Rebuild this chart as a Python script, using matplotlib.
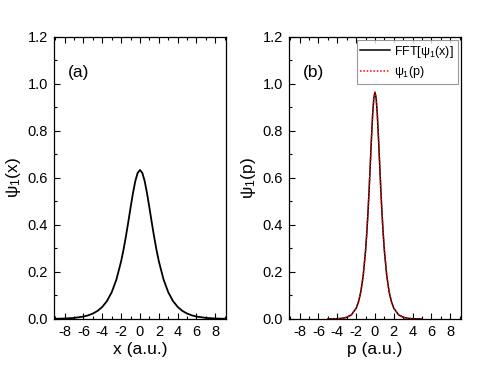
import matplotlib.pyplot as plt
from matplotlib.ticker import MultipleLocator

plt.rcParams['font.family'] = ['Liberation Sans', 'DejaVu Sans']
plt.rcParams['mathtext.fontset'] = 'custom'
plt.rcParams['mathtext.rm'] = 'Liberation Sans'
plt.rcParams['mathtext.it'] = 'Liberation Sans'
plt.rcParams['axes.unicode_minus'] = False

# panel (a): psi_1(x)
x = [-9.0, -8.0, -7.0, -6.0, -5.5, -5.0, -4.5, -4.0, -3.5, -3.0, -2.5, -2.0, -1.75,
     -1.5, -1.25, -1.0, -0.75, -0.5, -0.25, 0.0, 0.25, 0.5, 0.75, 1.0, 1.25,
     1.5, 1.75, 2.0, 2.5, 3.0, 3.5, 4.0, 4.5, 5.0, 5.5, 6.0, 7.0, 8.0, 9.0]
psi_x = [0.0009, 0.0021, 0.0047, 0.0104, 0.0156, 0.0232, 0.0346, 0.0516, 0.0768,
         0.1141, 0.1685, 0.2460, 0.2948, 0.3501, 0.4109, 0.4741, 0.5348, 0.5864,
         0.6215, 0.634, 0.6215, 0.5864, 0.5348, 0.4741, 0.4109, 0.3501, 0.2948,
         0.2460, 0.1685, 0.1141, 0.0768, 0.0516, 0.0346, 0.0232, 0.0156, 0.0104,
         0.0047, 0.0021, 0.0009]

# panel (b): momentum distribution, FFT result and analytic curve
p = [-5.0, -4.0, -3.5, -3.0, -2.5, -2.0, -1.75, -1.5, -1.25, -1.0, -0.875, -0.75,
     -0.625, -0.5, -0.375, -0.25, -0.125, 0.0, 0.125, 0.25, 0.375, 0.5, 0.625,
     0.75, 0.875, 1.0, 1.25, 1.5, 1.75, 2.0, 2.5, 3.0, 3.5, 4.0, 5.0]
fft_psi = [0.0002, 0.0011, 0.0028, 0.0071, 0.0180, 0.0458, 0.0731, 0.1163, 0.1847,
           0.2906, 0.3621, 0.4476, 0.5469, 0.6565, 0.7679, 0.8684, 0.9392, 0.965,
           0.9392, 0.8684, 0.7679, 0.6565, 0.5469, 0.4476, 0.3621, 0.2906, 0.1847,
           0.1163, 0.0731, 0.0458, 0.0180, 0.0071, 0.0028, 0.0011, 0.0002]
psi_p = [0.0002, 0.0011, 0.0028, 0.0071, 0.0180, 0.0458, 0.0731, 0.1163, 0.1847,
         0.2906, 0.3621, 0.4476, 0.5469, 0.6565, 0.7679, 0.8684, 0.9392, 0.965,
         0.9392, 0.8684, 0.7679, 0.6565, 0.5469, 0.4476, 0.3621, 0.2906, 0.1847,
         0.1163, 0.0731, 0.0458, 0.0180, 0.0071, 0.0028, 0.0011, 0.0002]

fig = plt.figure(figsize=(4.91, 3.76), dpi=100)
ax1 = fig.add_axes([0.1106, 0.1516, 0.349, 0.75])
ax2 = fig.add_axes([0.5892, 0.1516, 0.349, 0.75])

ax1.plot(x, psi_x, color='black', lw=1.3)
ax2.plot(p, fft_psi, color='black', lw=1.1, label=r'FFT[$\psi_1$(x)]')
ax2.plot(p, psi_p, color='red', lw=1.1, ls=(0, (1, 1.2)), label=r'$\psi_1$(p)')

for ax, xl, yl, tag in [(ax1, 'x (a.u.)', r'$\psi_1$(x)', '(a)'),
                        (ax2, 'p (a.u.)', r'$\psi_1$(p)', '(b)')]:
    ax.set_xlim(-9.1, 9.1)
    ax.set_ylim(0, 1.2)
    ax.xaxis.set_major_locator(MultipleLocator(2))
    ax.xaxis.set_minor_locator(MultipleLocator(1))
    ax.yaxis.set_major_locator(MultipleLocator(0.2))
    ax.yaxis.set_minor_locator(MultipleLocator(0.1))
    ax.tick_params(which='both', direction='in', top=True, labelsize=10.5, width=0.8)
    ax.tick_params(which='major', length=4, pad=4.5)
    ax.tick_params(which='minor', length=2)
    ax.set_yticks([0, 0.2, 0.4, 0.6, 0.8, 1.0, 1.2])
    ax.set_yticklabels(['0.0', '0.2', '0.4', '0.6', '0.8', '1.0', '1.2'])
    ax.set_xlabel(xl, fontsize=12.5, labelpad=2)
    ax.set_ylabel(yl, fontsize=12.5, labelpad=3)
    ax.text(0.08, 0.875, tag, transform=ax.transAxes, fontsize=12.5, va='center')
    for s in ax.spines.values():
        s.set_linewidth(0.9)

leg = ax2.legend(loc='upper right', fontsize=9, frameon=True, fancybox=False,
                 edgecolor='gray', borderaxespad=0.25, borderpad=0.3,
                 labelspacing=0.35, handlelength=2.4, handletextpad=0.3)
leg.get_frame().set_linewidth(0.8)

fig.savefig('out.png', dpi=100)
